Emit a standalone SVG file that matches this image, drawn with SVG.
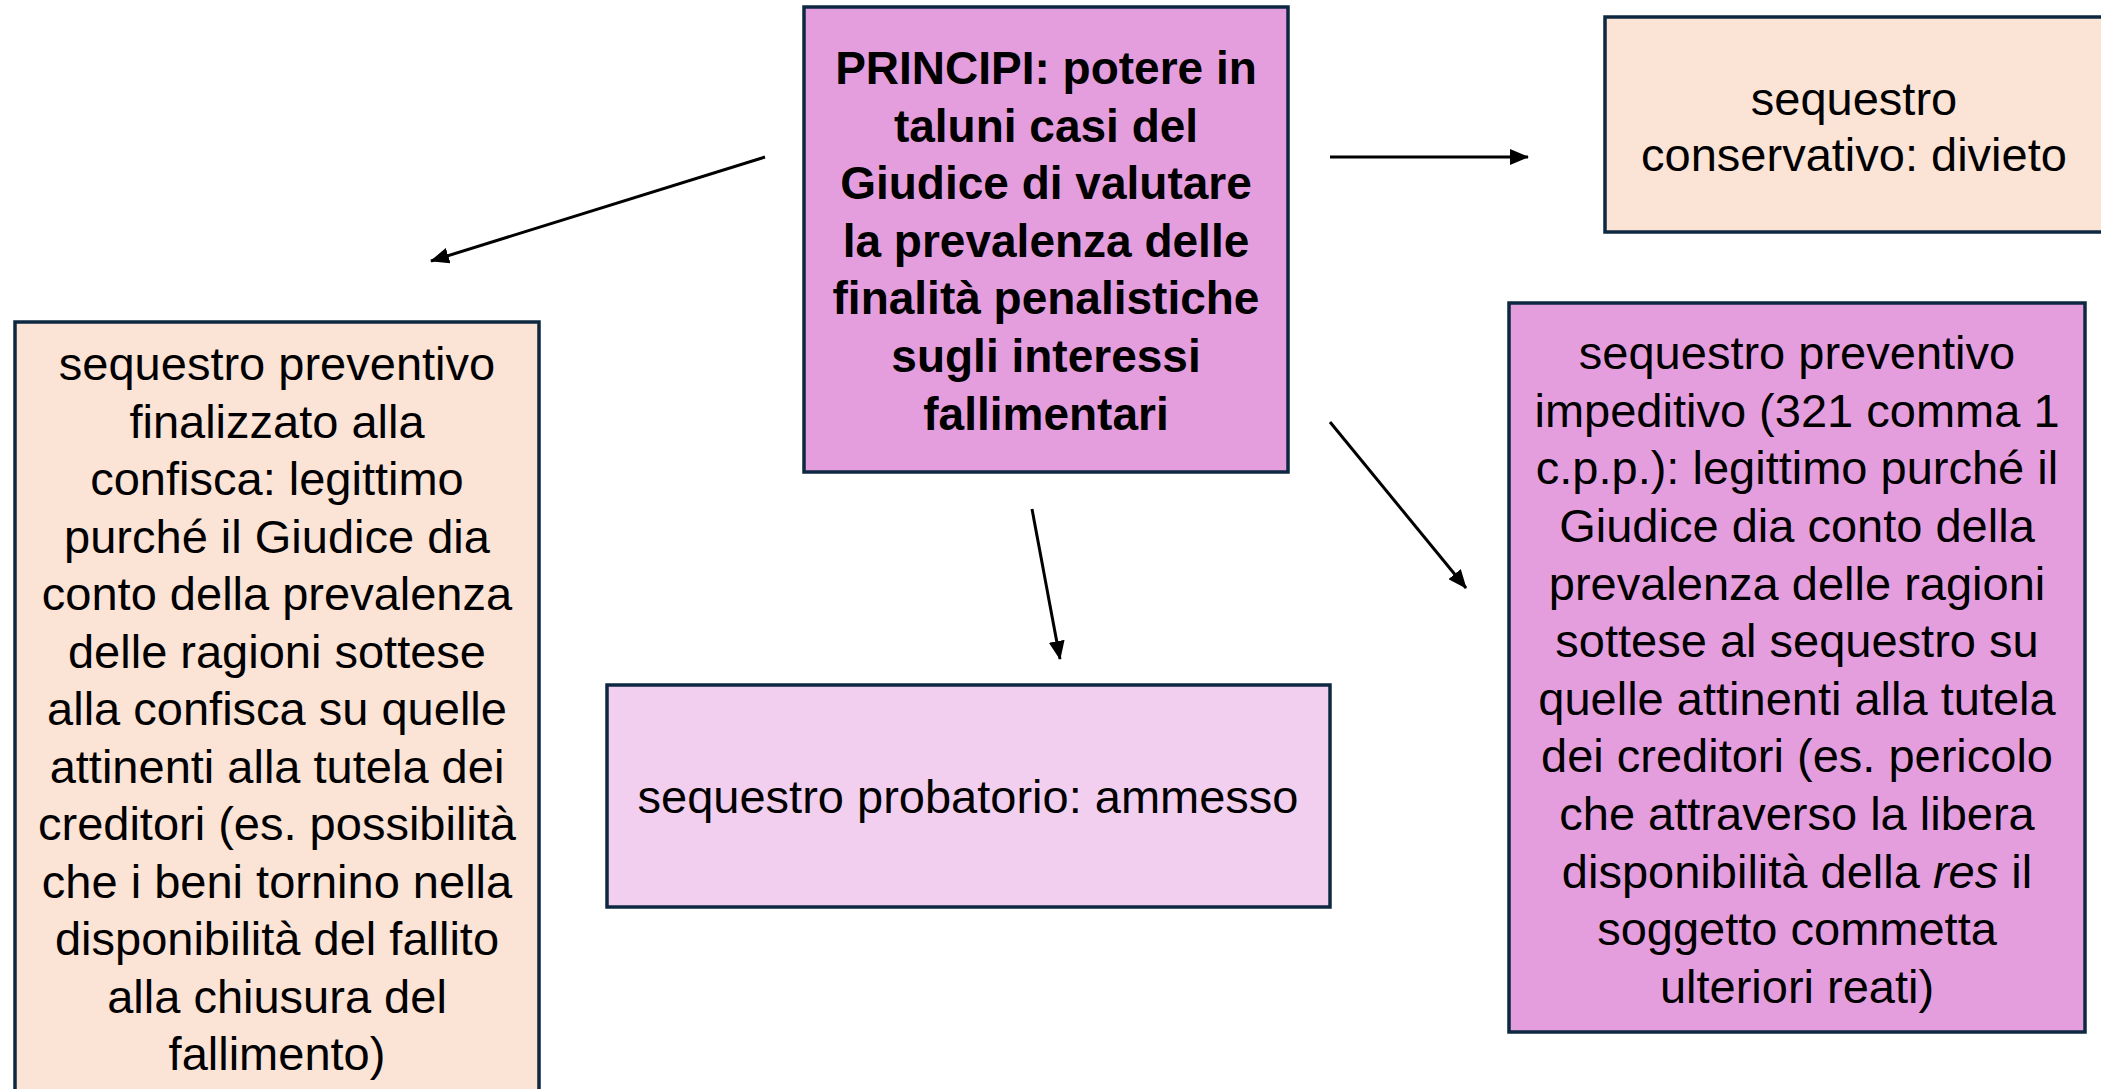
<svg xmlns="http://www.w3.org/2000/svg" width="2101" height="1089" viewBox="0 0 2101 1089">
<defs>
<style>
.box{stroke:#0E2841;stroke-width:3.5}
.violet{fill:#E59EDD}
.lilac{fill:#F2CFEE}
.peach{fill:#FBE3D6}
.t{font-family:"Liberation Sans",Arial,sans-serif;font-size:47px;fill:#000;text-anchor:middle}
.b{font-weight:bold;font-size:46px}
.conn{stroke:#000;stroke-width:3;fill:none;marker-end:url(#ah)}
</style>
<marker id="ah" markerUnits="userSpaceOnUse" markerWidth="20" markerHeight="16" refX="18" refY="8" orient="auto">
<path d="M0,0 L19,8 L0,16 z" fill="#000"/>
</marker>
</defs>
<rect width="2101" height="1089" fill="#fff"/>
<g id="connectors">
<line class="conn" x1="765" y1="157" x2="431" y2="261"/>
<line class="conn" x1="1330" y1="157" x2="1528" y2="157"/>
<line class="conn" x1="1032" y1="509" x2="1060" y2="659"/>
<line class="conn" x1="1330" y1="422" x2="1466" y2="588"/>
</g>
<g id="node-principi">
<rect class="box violet" x="804" y="7" width="484" height="465"/>
<text class="t b"><tspan x="1046" y="84">PRINCIPI: potere in</tspan><tspan x="1046" y="141.6">taluni casi del</tspan><tspan x="1046" y="199.2">Giudice di valutare</tspan><tspan x="1046" y="256.8">la prevalenza delle</tspan><tspan x="1046" y="314.4">finalità penalistiche</tspan><tspan x="1046" y="372">sugli interessi</tspan><tspan x="1046" y="429.6">fallimentari</tspan></text>
</g>
<g id="node-conservativo">
<rect class="box peach" x="1605" y="17" width="510" height="215"/>
<text class="t"><tspan x="1854" y="114.6">sequestro</tspan><tspan x="1854" y="170.9">conservativo: divieto</tspan></text>
</g>
<g id="node-confisca">
<rect class="box peach" x="15" y="322" width="524" height="790"/>
<text class="t"><tspan x="277" y="380">sequestro preventivo</tspan><tspan x="277" y="437.5">finalizzato alla</tspan><tspan x="277" y="495">confisca: legittimo</tspan><tspan x="277" y="552.5">purché il Giudice dia</tspan><tspan x="277" y="610">conto della prevalenza</tspan><tspan x="277" y="667.5">delle ragioni sottese</tspan><tspan x="277" y="725">alla confisca su quelle</tspan><tspan x="277" y="782.5">attinenti alla tutela dei</tspan><tspan x="277" y="840">creditori (es. possibilità</tspan><tspan x="277" y="897.5">che i beni tornino nella</tspan><tspan x="277" y="955">disponibilità del fallito</tspan><tspan x="277" y="1012.5">alla chiusura del</tspan><tspan x="277" y="1070">fallimento)</tspan></text>
</g>
<g id="node-probatorio">
<rect class="box lilac" x="607" y="685" width="723" height="222"/>
<text class="t" x="968" y="813">sequestro probatorio: ammesso</text>
</g>
<g id="node-impeditivo">
<rect class="box violet" x="1509" y="303" width="576" height="729"/>
<text class="t"><tspan x="1797" y="369.2">sequestro preventivo</tspan><tspan x="1797" y="426.8">impeditivo (321 comma 1</tspan><tspan x="1797" y="484.4">c.p.p.): legittimo purché il</tspan><tspan x="1797" y="542">Giudice dia conto della</tspan><tspan x="1797" y="599.6">prevalenza delle ragioni</tspan><tspan x="1797" y="657.2">sottese al sequestro su</tspan><tspan x="1797" y="714.8">quelle attinenti alla tutela</tspan><tspan x="1797" y="772.4">dei creditori (es. pericolo</tspan><tspan x="1797" y="830">che attraverso la libera</tspan><tspan x="1797" y="887.6">disponibilità della <tspan font-style="italic">res</tspan> il</tspan><tspan x="1797" y="945.2">soggetto commetta</tspan><tspan x="1797" y="1002.8">ulteriori reati)</tspan></text>
</g>
</svg>
